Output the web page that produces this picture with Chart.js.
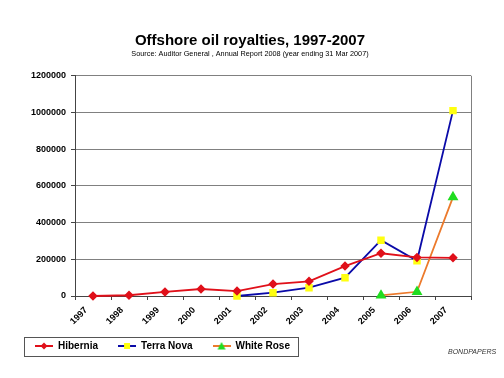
<!DOCTYPE html>
<html><head><meta charset="utf-8">
<script src="https://cdn.jsdelivr.net/npm/chart.js@4/dist/chart.umd.min.js"></script>
<style>html,body{margin:0;padding:0;background:#fff;overflow:hidden}</style>
</head><body>
<canvas id="c" width="504" height="378"></canvas>
<script>
const years = ['1997','1998','1999','2000','2001','2002','2003','2004','2005','2006','2007'];
const hibernia = [0, 4000, 22000, 38000, 27000, 65000, 80000, 163000, 233000, 210000, 208000];
const terraNova = [null, null, null, null, 0, 18000, 45000, 100000, 304000, 192000, 1010000];
const whiteRose = [null, null, null, null, null, null, null, null, 3000, 23000, 539000];
const yTickValues = [0, 200000, 400000, 600000, 800000, 1000000, 1200000];
const seriesNames = ['Hibernia', 'Terra Nova', 'White Rose'];

const FONT = '"Liberation Sans", Arial, sans-serif';

function legendIcon(lineColor, markerColor, shape) {
  const cv = document.createElement('canvas');
  cv.width = 18; cv.height = 10;
  const g = cv.getContext('2d');
  g.strokeStyle = lineColor; g.lineWidth = 2;
  g.beginPath(); g.moveTo(0, 5); g.lineTo(18, 5); g.stroke();
  g.fillStyle = markerColor;
  g.beginPath();
  if (shape === 'diamond') { g.moveTo(9, 1.5); g.lineTo(12.5, 5); g.lineTo(9, 8.5); g.lineTo(5.5, 5); }
  else if (shape === 'square') { g.rect(6, 2, 6, 6); }
  else { g.moveTo(9, 1); g.lineTo(13, 8.5); g.lineTo(5, 8.5); }
  g.closePath(); g.fill();
  return cv;
}

const styles = [
  { line: '#e0101a', marker: '#e0101a', ps: 'rectRot', r: 3.5, shape: 'diamond' },
  { line: '#0a0aa8', marker: '#ffff10', ps: 'rect', r: 4, shape: 'square' },
  { line: '#ec7a2c', marker: '#20dd20', ps: 'triangle', r: 4.5, shape: 'triangle' }
];
const seriesData = [hibernia, terraNova, whiteRose];

const frame = {
  id: 'frame',
  beforeDraw(chart) {
    // let rotated x labels overflow the (short) axis box instead of being clipped
    if (chart.scales.x) chart.scales.x._computeLabelArea = () => undefined;
  },
  beforeDatasetsDraw(chart) {
    const a = chart.chartArea, ctx = chart.ctx;
    ctx.save();
    ctx.strokeStyle = '#808080'; ctx.lineWidth = 1;
    ctx.beginPath();
    ctx.moveTo(Math.round(a.right) + 0.5, a.top); ctx.lineTo(Math.round(a.right) + 0.5, a.bottom);
    ctx.stroke();
    ctx.restore();
  },
  afterDraw(chart) {
    const ctx = chart.ctx, lg = chart.legend;
    const hb = lg.legendHitBoxes;
    if (hb && hb.length) {
      const first = hb[0], last = hb[hb.length - 1];
      const cy = first.top + first.height / 2;
      ctx.save();
      ctx.strokeStyle = '#555'; ctx.lineWidth = 1;
      ctx.strokeRect(Math.round(first.left - 11) + 0.5, Math.round(cy - 9.5) + 0.5,
        Math.round(last.left + last.width + 8 - (first.left - 11)), 19);
      ctx.restore();
    }
    ctx.save();
    ctx.font = 'italic 7px ' + FONT;
    ctx.fillStyle = '#333';
    ctx.textAlign = 'left'; ctx.textBaseline = 'middle';
    ctx.fillText('BONDPAPERS', 448, 352);
    ctx.restore();
  }
};

new Chart(document.getElementById('c'), {
  type: 'line',
  data: {
    labels: years,
    datasets: seriesData.map((d, i) => ({
      label: seriesNames[i],
      data: d,
      yAxisID: 'y',
      borderColor: styles[i].line,
      backgroundColor: styles[i].marker,
      pointBackgroundColor: styles[i].marker,
      pointBorderColor: styles[i].marker,
      pointStyle: styles[i].ps,
      pointRadius: styles[i].r,
      borderWidth: 1.8,
      tension: 0,
      spanGaps: false,
      clip: false
    }))
  },
  options: {
    responsive: false,
    animation: false,
    devicePixelRatio: 1,
    layout: { padding: { left: 15, right: 19, top: 0, bottom: 17 } },
    plugins: {
      title: {
        display: true,
        text: 'Offshore oil royalties, 1997-2007',
        color: '#000',
        font: { family: FONT, size: 15, weight: 'bold' },
        padding: { top: 32, bottom: 0 }
      },
      subtitle: {
        display: true,
        text: 'Source: Auditor General , Annual Report 2008 (year ending 31 Mar 2007)',
        color: '#000',
        font: { family: FONT, size: 7.3 },
        padding: { top: 0, bottom: 17 }
      },
      legend: {
        display: true,
        position: 'bottom',
        align: 'start',
        labels: {
          usePointStyle: true,
          pointStyleWidth: 18,
          padding: 20,
          color: '#000',
          font: { family: FONT, size: 10, weight: 'bold' },
          generateLabels(chart) {
            return chart.data.datasets.map((ds, i) => ({
              text: ds.label,
              pointStyle: legendIcon(styles[i].line, styles[i].marker, styles[i].shape),
              fillStyle: styles[i].marker,
              strokeStyle: styles[i].line,
              lineWidth: 0,
              fontColor: '#000',
              datasetIndex: i
            }));
          }
        }
      },
      tooltip: { enabled: false }
    },
    scales: {
      x: {
        type: 'category',
        offset: true,
        afterFit(s) { s.height = 25; },
        grid: { display: true, offset: true, drawOnChartArea: false, drawTicks: true, tickLength: 4, color: '#444' },
        border: { display: true, color: '#444', width: 1 },
        ticks: {
          color: '#000',
          font: { family: FONT, size: 9, weight: 'bold' },
          minRotation: 45, maxRotation: 45,
          padding: 5,
          labelOffset: -7,
          autoSkip: false
        }
      },
      y: {
        min: 0, max: 1200000,
        afterFit(s) { s.width = 60; },
        afterBuildTicks(s) { s.ticks = yTickValues.map(v => ({ value: v })); },
        grid: { color: '#808080', lineWidth: 1, drawTicks: true, tickLength: 4, tickColor: '#444' },
        border: { display: true, color: '#444', width: 1 },
        ticks: {
          color: '#000',
          padding: 5,
          font: { family: FONT, size: 9, weight: 'bold' },
          callback: v => String(v)
        }
      },
      yRight: {
        position: 'right',
        display: true,
        min: 0, max: 1200000,
        afterFit(s) { s.width = 14; },
        grid: { display: false },
        border: { display: false },
        ticks: { display: false }
      }
    }
  },
  plugins: [frame]
});
</script>
</body></html>
